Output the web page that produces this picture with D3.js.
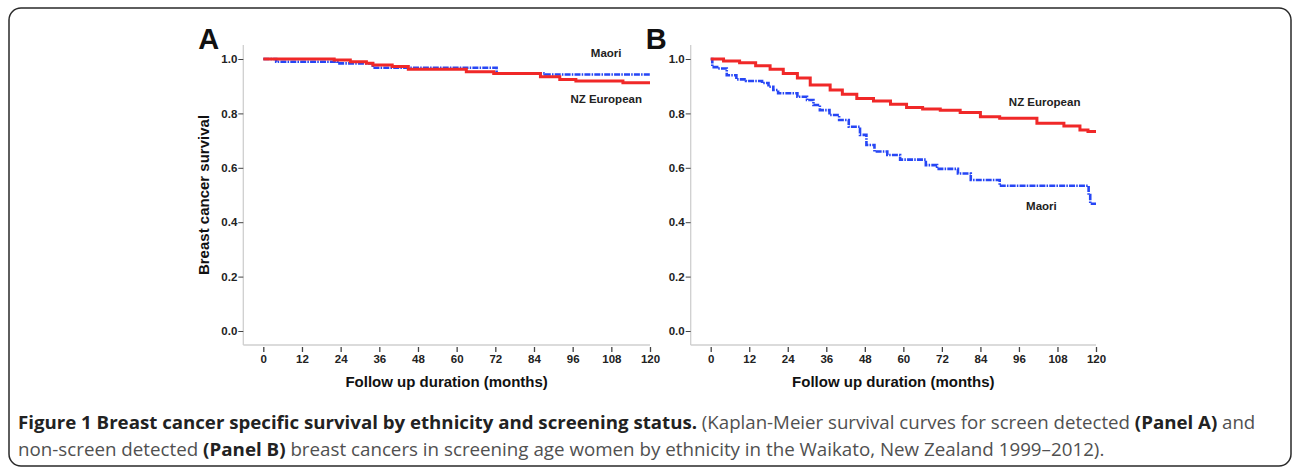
<!DOCTYPE html>
<html><head><meta charset="utf-8">
<script src="https://cdn.jsdelivr.net/npm/d3@7"></script>
<style>
html,body{margin:0;padding:0;background:#fff;}
svg{display:block;}
</style></head>
<body>
<svg id="chart" width="1292" height="467"></svg>
<script>
// ---- data ----
const xTicks = [0,12,24,36,48,60,72,84,96,108,120];
const yTicks = [0.0,0.2,0.4,0.6,0.8,1.0];
const seriesNames = ["NZ European","Maori"];

// Panel A (screen detected): [month, survival]
const panelA_NZEuropean = [[0,1.0],[22,0.996],[27,0.99],[32,0.984],[34,0.978],[40,0.972],[45,0.962],[63,0.953],[71.5,0.947],[86,0.935],[92,0.925],[97,0.919],[111.6,0.913],[120,0.913]];
const panelA_Maori = [[0,1.0],[4,0.99],[23,0.984],[34,0.968],[72.4,0.947],[87.4,0.943],[120,0.943]];

// Panel B (non-screen detected)
const panelB_NZEuropean = [[0,1.0],[4,0.993],[9,0.986],[14,0.975],[18.5,0.962],[22.6,0.947],[27,0.93],[31,0.904],[37.2,0.886],[41,0.87],[45.5,0.855],[50.7,0.846],[56,0.834],[61,0.822],[66,0.816],[71.5,0.812],[77.7,0.803],[84,0.788],[90,0.782],[101.6,0.764],[110,0.754],[115,0.739],[117.5,0.733],[120,0.733]];
const panelB_Maori = [[0,1.0],[0.5,0.97],[2,0.965],[5,0.94],[8,0.925],[11,0.919],[16,0.912],[18,0.898],[19.5,0.886],[21,0.874],[27,0.861],[30,0.849],[32,0.831],[34,0.812],[37,0.794],[40,0.776],[43,0.751],[46.5,0.721],[48.5,0.684],[51,0.66],[55,0.647],[59,0.63],[67,0.61],[70.5,0.596],[77,0.579],[81,0.555],[90,0.534],[117.7,0.5],[118.2,0.468],[120,0.468]];

const panelLetters = ["A","B"];
const yTitle = "Breast cancer survival";
const xTitle = "Follow up duration (months)";

// ---- drawing ----
const svg = d3.select("#chart");
const RED = "#f02828", BLUE = "#2646f5";
const FONT = "Liberation Sans, Arial, sans-serif";

// frame
svg.append("rect").attr("x",9).attr("y",8).attr("width",1282).attr("height",458)
  .attr("rx",12).attr("fill","none").attr("stroke","#2a2a2a").attr("stroke-width",1.5);

const y = d3.scaleLinear().domain([0,1]).range([331,59]);

function panel(x0, x1, letter, nz, maori, labels, showYTitle){
  const x = d3.scaleLinear().domain([0,120]).range([x0,x1]);
  const g = svg.append("g");
  const axisLeftX = x0 - 20, axisBottomY = 345;
  g.append("line").attr("x1",axisLeftX).attr("x2",axisLeftX).attr("y1",45).attr("y2",axisBottomY)
    .attr("stroke","#cfcfcf").attr("stroke-width",1.3);
  g.append("line").attr("x1",axisLeftX).attr("x2",x1).attr("y1",axisBottomY).attr("y2",axisBottomY)
    .attr("stroke","#cfcfcf").attr("stroke-width",1.3);
  const ya = g.append("g").attr("transform",`translate(${axisLeftX},0)`)
    .call(d3.axisLeft(y).tickValues(yTicks).tickFormat(d3.format(".1f")).tickSize(5).tickPadding(1));
  ya.select(".domain").remove();
  ya.selectAll("line").attr("stroke","#444");
  ya.selectAll("text").attr("font-family",FONT).attr("font-size",11.5)
    .attr("font-weight","bold").attr("fill","#222");
  const xa = g.append("g").attr("transform",`translate(0,${axisBottomY+2})`)
    .call(d3.axisBottom(x).tickValues(xTicks).tickSize(5).tickPadding(3));
  xa.select(".domain").remove();
  xa.selectAll("line").attr("stroke","#444").attr("stroke-width",1.3);
  xa.selectAll("text").attr("font-family",FONT).attr("font-size",11.5)
    .attr("font-weight","bold").attr("fill","#222");
  g.append("text").attr("x",(x0+x1)/2-10).attr("y",387).attr("text-anchor","middle")
    .attr("font-family",FONT).attr("font-size",15).attr("font-weight","bold")
    .attr("fill","#111").text(xTitle);
  if(showYTitle){
    g.append("text").attr("transform",`translate(${axisLeftX-34},${(y(0)+y(1))/2}) rotate(-90)`)
      .attr("text-anchor","middle").attr("font-family",FONT)
      .attr("font-size",15).attr("font-weight","bold").attr("fill","#111").text(yTitle);
  }
  g.append("text").attr("x",axisLeftX-45).attr("y",49)
    .attr("font-family",FONT).attr("font-size",29).attr("font-weight","bold")
    .attr("fill","#111").text(letter);
  const line = d3.line().x(d=>x(d[0])).y(d=>y(d[1])).curve(d3.curveStepAfter);
  g.append("path").datum(maori).attr("d",line).attr("fill","none").attr("stroke",BLUE)
    .attr("stroke-width",2.6).attr("stroke-dasharray","6,1.2,1.5,1.2");
  g.append("path").datum(nz).attr("d",line).attr("fill","none").attr("stroke",RED)
    .attr("stroke-width",3);
  labels.forEach(l=>{
    g.append("text").attr("x",x(l.m)).attr("y",y(l.v)).attr("text-anchor","middle")
      .attr("font-family",FONT).attr("font-size",11.5).attr("font-weight","bold")
      .attr("fill","#222").text(l.t);
  });
}

panel(263.3, 650, panelLetters[0], panelA_NZEuropean, panelA_Maori,
  [{t:seriesNames[1],m:106.4,v:1.007},{t:seriesNames[0],m:106.4,v:0.838}], true);
panel(710.7, 1096, panelLetters[1], panelB_NZEuropean, panelB_Maori,
  [{t:seriesNames[0],m:104,v:0.827},{t:seriesNames[1],m:103,v:0.445}], false);

// caption
const cap = [
  {w:1238, y:429, parts:[["Figure 1 Breast cancer specific survival by ethnicity and screening status.",true],[" (Kaplan-Meier survival curves for screen detected ",false],["(Panel A)",true],[" and",false]]},
  {w:1087, y:456, parts:[["non-screen detected ",false],["(Panel B)",true],[" breast cancers in screening age women by ethnicity in the Waikato, New Zealand 1999–2012).",false]]}
];
cap.forEach(c=>{
  const gg = svg.append("g");
  const t = gg.append("text").attr("x",0).attr("y",0).attr("font-family","Open Sans, sans-serif").attr("font-size",18);
  c.parts.forEach(p=>{
    t.append("tspan").text(p[0]).attr("font-weight",p[1]?"bold":"normal").attr("fill",p[1]?"#222":"#505050");
  });
  const wd = t.node().getComputedTextLength();
  gg.attr("transform",`translate(18,${c.y}) scale(${c.w/wd},1)`);
});
</script>
</body></html>
